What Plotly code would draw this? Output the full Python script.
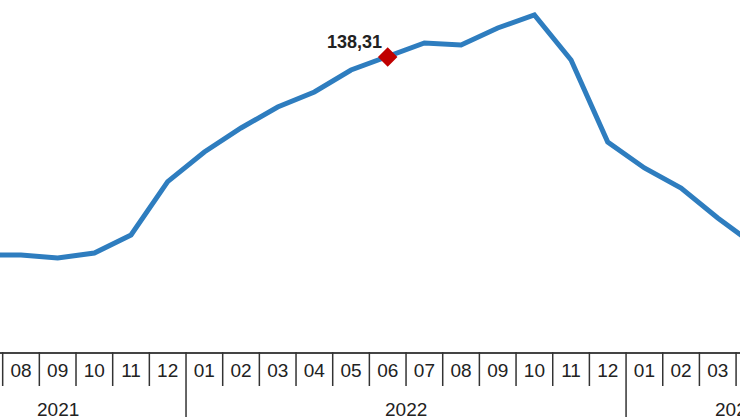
import plotly.graph_objects as go

# Data (2021-07 .. 2023-04)
months = ["07", "08", "09", "10", "11", "12",
          "01", "02", "03", "04", "05", "06", "07", "08", "09", "10", "11", "12",
          "01", "02", "03", "04"]
years = ["2021"] * 6 + ["2022"] * 12 + ["2023"] * 4
values = [97.06, 97.06, 96.44, 97.48, 101.23, 112.35,
          118.52, 123.52, 127.89, 131.02, 135.60, 138.31, 141.23, 140.81, 144.35, 147.06, 137.69, 120.60,
          115.19, 111.02, 104.77, 99.15]
highlight_label = "138,31"
highlight_index = 11
year_labels = ["2021", "2022", "2023"]
year_label_pos = [2.0, 11.5, 20.5]   # centre of each year group on the category axis

idx = list(range(len(months)))
FONT = "Liberation Sans, Arial, sans-serif"

fig = go.Figure()
fig.add_trace(go.Scatter(
    x=idx, y=values, mode="lines",
    line=dict(color="#2e7dbf", width=5),
    hoverinfo="skip", showlegend=False))
fig.add_trace(go.Scatter(
    x=[idx[highlight_index]], y=[values[highlight_index]], mode="markers",
    marker=dict(symbol="diamond", size=15, color="#c00000"),
    showlegend=False, hoverinfo="skip"))

fig.add_annotation(x=idx[highlight_index], y=values[highlight_index], text="<b>%s</b>" % highlight_label,
                   showarrow=False, xshift=-33, yshift=15,
                   font=dict(family=FONT, size=18, color="#222222"))

PLOT_H = 352.0
shapes = []
for i in idx[:-1]:
    boundary = i + 0.5
    year_break = years[i] != years[i + 1]
    depth = 65.0 if year_break else 34.0
    shapes.append(dict(type="line", xref="x", yref="paper", x0=boundary, x1=boundary,
                       y0=0, y1=-depth / PLOT_H, line=dict(color="#333333", width=1.5)))
fig.update_layout(shapes=shapes)

for lbl, pos in zip(year_labels, year_label_pos):
    fig.add_annotation(x=pos, y=0, xref="x", yref="paper", yanchor="middle",
                       text=lbl, showarrow=False, yshift=-57,
                       font=dict(family=FONT, size=19, color="#222222"))

fig.update_xaxes(range=[0.4273, 20.607], tickmode="array", tickvals=idx, ticktext=months,
                 ticks="", showgrid=False, zeroline=False, showline=True,
                 linecolor="#444444", linewidth=1.5,
                 tickfont=dict(family=FONT, size=19, color="#222222"))
fig.update_yaxes(range=[76.85, 150.185], visible=False, showgrid=False, zeroline=False)

fig.update_layout(width=740, height=417, margin=dict(l=0, r=0, t=0, b=65),
                  paper_bgcolor="white", plot_bgcolor="white")

fig.write_html("out.html", config={"displayModeBar": False},
               post_script="document.body.style.margin='0';document.body.style.overflow='hidden';")
